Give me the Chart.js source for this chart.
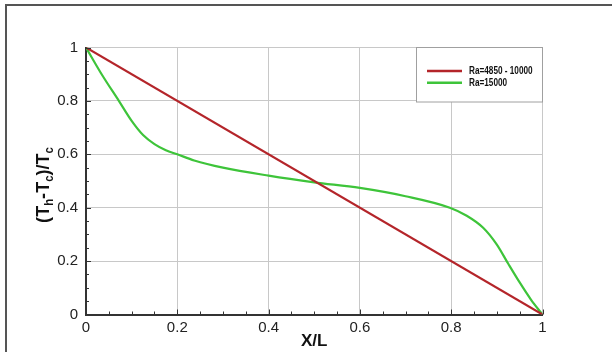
<!DOCTYPE html>
<html lang="en">
<head>
  <meta charset="UTF-8">
  <title>temperature profile</title>
  <script src="https://cdn.jsdelivr.net/npm/chart.js@4.4.1/dist/chart.umd.min.js"></script>
  <style>
    html, body { margin: 0; padding: 0; background: #fff; }
    #chart_profile { display: block; }
  </style>
</head>
<body>
  <canvas id="chart_profile" width="612" height="352"></canvas>
  <script>
    // ---- data
    var seriesNames = ['Ra=4850 - 10000', 'Ra=15000'];
    var xRed = [0, 1];
    var yRed = [1, 0];
    var xGreen = [0, 0.036, 0.072, 0.1, 0.125, 0.15, 0.175, 0.2, 0.237, 0.3, 0.4, 0.5, 0.6, 0.7, 0.797, 0.834, 0.87, 0.9, 0.925, 0.95, 0.975, 1];
    var yGreen = [1, 0.895, 0.80, 0.725, 0.672, 0.638, 0.615, 0.60, 0.577, 0.55, 0.52, 0.495, 0.474, 0.443, 0.40, 0.37, 0.325, 0.262, 0.19, 0.12, 0.055, 0];
    var xTicks = [0, 0.2, 0.4, 0.6, 0.8, 1];
    var yTicks = [0, 0.2, 0.4, 0.6, 0.8, 1];

    var SANS = "'Liberation Sans', Arial, sans-serif";
    var colRed = '#b4252a';
    var colGreen = '#3ec43a';

    function pts(xs, ys) {
      return xs.map(function (x, i) { return { x: x, y: ys[i] }; });
    }

    // frame, minor ticks, legend box, y title with subscripts
    var decor = {
      id: 'decor',
      beforeDraw: function (chart) {
        var c = chart.ctx;
        c.save();
        c.fillStyle = '#fff';
        c.fillRect(0, 0, chart.width, chart.height);
        c.strokeStyle = '#555';
        c.lineWidth = 2;
        c.beginPath();
        c.moveTo(6, chart.height);
        c.lineTo(6, 5);
        c.lineTo(chart.width, 5);
        c.stroke();
        c.restore();
      },
      afterDraw: function (chart) {
        var c = chart.ctx, xs = chart.scales.x, ys = chart.scales.y, a = chart.chartArea;
        c.save();
        c.strokeStyle = '#333';
        c.lineWidth = 1;
        c.beginPath();
        for (var i = 0; i <= 20; i++) {
          var len = (i % 4 === 0) ? 5 : 3;
          var px = Math.round(xs.getPixelForValue(i * 0.05)) + 0.5;
          c.moveTo(px, a.bottom); c.lineTo(px, a.bottom - len);
          var py = Math.round(ys.getPixelForValue(i * 0.05)) + 0.5;
          c.moveTo(a.left, py); c.lineTo(a.left + len, py);
        }
        c.stroke();

        // legend
        var bx = 416.5, by = a.top, bw = a.right - 416.5, bh = 54.5;
        c.fillStyle = '#fff';
        c.fillRect(bx, by, bw, bh);
        c.strokeStyle = '#a0a0a0';
        c.lineWidth = 1;
        c.strokeRect(bx, by, bw, bh);
        chart.data.datasets.forEach(function (ds, k) {
          var ly = 71 + k * 11.7;
          c.strokeStyle = ds.borderColor;
          c.lineWidth = 2.5;
          c.beginPath(); c.moveTo(427, ly); c.lineTo(462, ly); c.stroke();
          c.save();
          c.translate(469, ly + 0.5);
          c.scale(0.82, 1);
          c.fillStyle = '#111';
          c.font = 'bold 10px ' + SANS;
          c.textBaseline = 'middle';
          c.textAlign = 'left';
          c.fillText(ds.label, 0, 0);
          c.restore();
        });

        // y axis title (T_h-T_c)/T_c
        var parts = [['(T', 0], ['h', 1], ['-T', 0], ['c', 1], [')/T', 0], ['c', 1]];
        var big = 'bold 19px ' + SANS, small = 'bold 12px ' + SANS;
        var w = 0;
        parts.forEach(function (p) { c.font = p[1] ? small : big; w += c.measureText(p[0]).width; });
        c.translate(49, 185);
        c.rotate(-Math.PI / 2);
        c.scale(0.95, 1);
        c.fillStyle = '#111';
        c.textAlign = 'left';
        c.textBaseline = 'alphabetic';
        var cx = -w / 2;
        parts.forEach(function (p) {
          c.font = p[1] ? small : big;
          c.fillText(p[0], cx, p[1] ? 4 : 0);
          cx += c.measureText(p[0]).width;
        });
        c.restore();
      }
    };

    function tickText(v) { return String(v); }

    var ctx = document.getElementById('chart_profile').getContext('2d');
    var chart = new Chart(ctx, {
      type: 'scatter',
      data: {
        datasets: [
          { label: seriesNames[0], data: pts(xRed, yRed), showLine: true, borderColor: colRed, borderWidth: 2.2, pointRadius: 0 },
          { label: seriesNames[1], data: pts(xGreen, yGreen), showLine: true, borderColor: colGreen, borderWidth: 2.2, pointRadius: 0, cubicInterpolationMode: 'monotone' }
        ]
      },
      options: {
        responsive: false,
        animation: false,
        layout: { padding: { left: 0, top: 47.5, right: 69.5, bottom: 0 } },
        plugins: { legend: { display: false }, tooltip: { enabled: false } },
        scales: {
          x: {
            type: 'linear', min: 0, max: 1,
            afterBuildTicks: function (s) { s.ticks = xTicks.map(function (v) { return { value: v }; }); },
            afterFit: function (s) { s.height = 37.5; },
            grid: { color: '#c8c8c8', lineWidth: 1, drawTicks: false },
            border: { color: '#333', width: 2 },
            ticks: { color: '#222', padding: 4, maxRotation: 0, callback: tickText, font: { family: SANS, size: 15 } },
            title: { display: true, text: 'X/L', color: '#111', padding: { top: 4, bottom: 0 }, font: { family: SANS, size: 17, weight: 'bold' } }
          },
          y: {
            type: 'linear', min: 0, max: 1,
            afterBuildTicks: function (s) { s.ticks = yTicks.map(function (v) { return { value: v }; }); },
            afterFit: function (s) { s.width = 86; },
            grid: { color: '#c8c8c8', lineWidth: 1, drawTicks: false },
            border: { color: '#333', width: 2 },
            ticks: { color: '#222', padding: 8, callback: tickText, font: { family: SANS, size: 15 } }
          }
        }
      },
      plugins: [decor]
    });
  </script>
</body>
</html>
